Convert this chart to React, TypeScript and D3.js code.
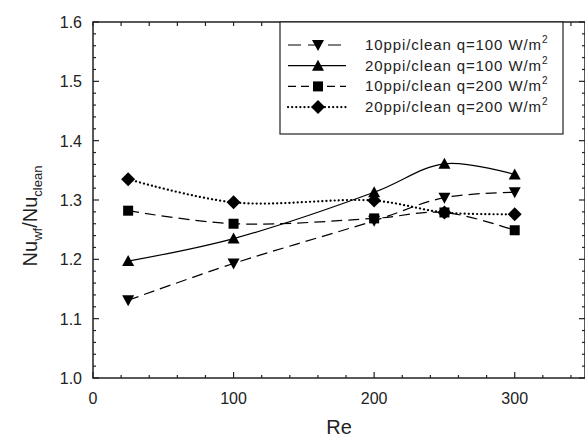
import React, { useEffect, useRef } from "react";
import * as d3 from "d3";

const reValues = [25, 100, 200, 250, 300];
const ppi10q100 = [1.131, 1.193, 1.265, 1.304, 1.313];
const ppi20q100 = [1.197, 1.235, 1.313, 1.361, 1.343];
const ppi10q200 = [1.282, 1.26, 1.269, 1.279, 1.249];
const ppi20q200 = [1.335, 1.296, 1.299, 1.279, 1.276];
const seriesNames = [
  "10ppi/clean q=100 W/m",
  "20ppi/clean q=100 W/m",
  "10ppi/clean q=200 W/m",
  "20ppi/clean q=200 W/m",
];
const xTicks = [0, 100, 200, 300];
const yTicks = [1.0, 1.1, 1.2, 1.3, 1.4, 1.5, 1.6];

export default function App() {
  const ref = useRef<SVGSVGElement | null>(null);

  useEffect(() => {
    const svg = d3.select(ref.current);
    svg.selectAll("*").remove();

    const left = 93, right = 585, top = 22, bottom = 378;
    const x = d3.scaleLinear().domain([0, 350]).range([left, right]);
    const y = d3.scaleLinear().domain([1.0, 1.6]).range([bottom, top]);
    const font = "'Liberation Sans', Arial, sans-serif";
    const ink = "#000";

    const series = [
      { name: seriesNames[0], values: ppi10q100, dash: "11,6", marker: "down" },
      { name: seriesNames[1], values: ppi20q100, dash: null, marker: "up" },
      { name: seriesNames[2], values: ppi10q200, dash: "11,6", marker: "square" },
      { name: seriesNames[3], values: ppi20q200, dash: "0.1,4", marker: "diamond" },
    ];

    // frame
    svg.append("rect")
      .attr("x", left).attr("y", top)
      .attr("width", right - left).attr("height", bottom - top)
      .attr("fill", "none").attr("stroke", "#222").attr("stroke-width", 1.5);

    // ticks (inward)
    const g = svg.append("g").attr("stroke", "#222").attr("stroke-width", 1.2);
    d3.range(0, 351, 20).forEach((v) => {
      const major = v % 100 === 0;
      const len = major ? 6 : 3;
      g.append("line").attr("x1", x(v)).attr("x2", x(v)).attr("y1", bottom).attr("y2", bottom - len);
      g.append("line").attr("x1", x(v)).attr("x2", x(v)).attr("y1", top).attr("y2", top + 4);
    });
    d3.range(0, 31, 1).forEach((i) => {
      const v = 1 + i * 0.02;
      const major = i % 5 === 0;
      const len = major ? 6 : 3;
      g.append("line").attr("x1", left).attr("x2", left + len).attr("y1", y(v)).attr("y2", y(v));
      g.append("line").attr("x1", right).attr("x2", right - len).attr("y1", y(v)).attr("y2", y(v));
    });

    // tick labels
    svg.append("g").selectAll("text").data(xTicks).join("text")
      .attr("x", (d) => x(d)).attr("y", bottom + 26)
      .attr("text-anchor", "middle").attr("font-family", font).attr("font-size", 16).attr("fill", "#222")
      .text((d) => d);
    svg.append("g").selectAll("text").data(yTicks).join("text")
      .attr("x", left - 11).attr("y", (d) => y(d) + 6)
      .attr("text-anchor", "end").attr("font-family", font).attr("font-size", 16).attr("fill", "#222")
      .text((d) => d.toFixed(1));

    // axis titles
    svg.append("text").attr("x", x(175)).attr("y", 434)
      .attr("text-anchor", "middle").attr("font-family", font).attr("font-size", 20).attr("fill", "#222")
      .text("Re");
    const yl = svg.append("text")
      .attr("transform", `translate(37, 216) rotate(-90)`)
      .attr("text-anchor", "middle").attr("font-family", font).attr("font-size", 20).attr("fill", "#222");
    yl.append("tspan").text("Nu");
    yl.append("tspan").attr("font-size", 13).attr("dy", 5).text("wf");
    yl.append("tspan").attr("dy", -5).text("/Nu");
    yl.append("tspan").attr("font-size", 13).attr("dy", 5).text("clean");

    const line = d3.line<number>()
      .x((_, i) => x(reValues[i]))
      .y((d) => y(d))
      .curve(d3.curveCatmullRom.alpha(0.5));

    const drawMarker = (sel: any, type: string, cx: number, cy: number) => {
      if (type === "up") {
        sel.append("path").attr("d", `M${cx},${cy - 6}L${cx + 6},${cy + 5}L${cx - 6},${cy + 5}Z`).attr("fill", ink);
      } else if (type === "down") {
        sel.append("path").attr("d", `M${cx},${cy + 6}L${cx + 6},${cy - 5}L${cx - 6},${cy - 5}Z`).attr("fill", ink);
      } else if (type === "square") {
        sel.append("rect").attr("x", cx - 5).attr("y", cy - 5).attr("width", 10).attr("height", 10).attr("fill", ink);
      } else {
        sel.append("path").attr("d", `M${cx},${cy - 7}L${cx + 7},${cy}L${cx},${cy + 7}L${cx - 7},${cy}Z`).attr("fill", ink);
      }
    };

    series.forEach((s) => {
      const p = svg.append("path").datum(s.values)
        .attr("d", line).attr("fill", "none").attr("stroke", ink)
        .attr("stroke-width", s.marker === "diamond" ? 2.2 : 1.2);
      if (s.dash) p.attr("stroke-dasharray", s.dash);
      if (s.marker === "diamond") p.attr("stroke-linecap", "round");
      const mg = svg.append("g");
      s.values.forEach((v, i) => drawMarker(mg, s.marker, x(reValues[i]), y(v)));
    });

    // legend
    const lg = svg.append("g");
    lg.append("rect").attr("x", 280).attr("y", top).attr("width", 283).attr("height", 112)
      .attr("fill", "#fff").attr("stroke", "#222").attr("stroke-width", 1.2);
    series.forEach((s, i) => {
      const ly = 45 + i * 20.7;
      const l = lg.append("line").attr("x1", 288).attr("x2", 346).attr("y1", ly).attr("y2", ly)
        .attr("stroke", ink).attr("stroke-width", s.marker === "diamond" ? 2.2 : 1.2);
      if (s.dash) l.attr("stroke-dasharray", s.marker === "down" ? "13,7" : s.dash === "11,6" ? "8,5" : s.dash);
      if (s.marker === "diamond") l.attr("stroke-linecap", "round");
      drawMarker(lg, s.marker, 318, ly);
      const t = lg.append("text").attr("x", 365).attr("y", ly + 5)
        .attr("font-family", font).attr("font-size", 15).attr("letter-spacing", 0.9).attr("fill", "#222");
      t.append("tspan").text(s.name);
      t.append("tspan").attr("font-size", 10).attr("dy", -7).text("2");
    });
  }, []);

  return <svg ref={ref} width={585} height={437} style={{ position: "absolute", left: 0, top: 0, background: "#fff" }} />;
}
